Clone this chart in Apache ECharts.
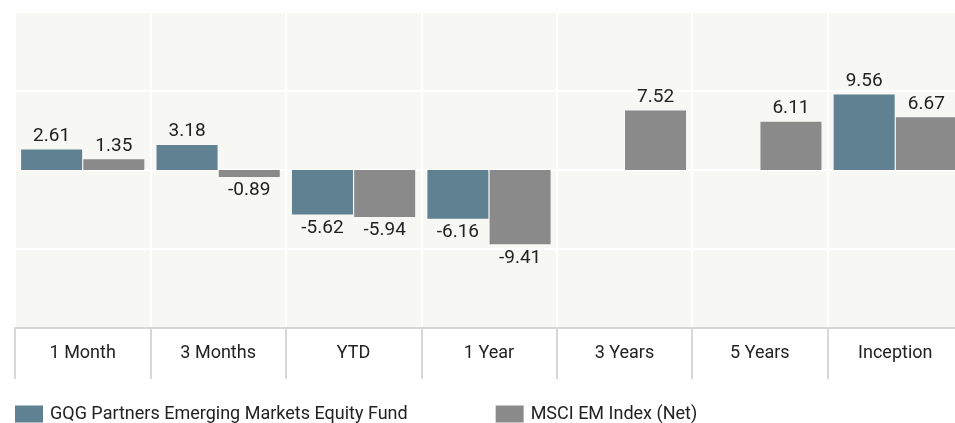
<!DOCTYPE html>
<html>
<head>
<meta charset="utf-8">
<script src="https://cdn.jsdelivr.net/npm/echarts@6/dist/echarts.min.js"></script>
<style>
  html, body { margin: 0; padding: 0; background: #fff; }
  #chart { width: 955px; height: 423px; }
</style>
</head>
<body>
<div id="chart"></div>
<script>
var categories = ['1 Month', '3 Months', 'YTD', '1 Year', '3 Years', '5 Years', 'Inception'];
var fundValues = [2.61, 3.18, -5.62, -6.16, null, null, 9.56];
var indexValues = [1.35, -0.89, -5.94, -9.41, 7.52, 6.11, 6.67];
var seriesNames = ['GQG Partners Emerging Markets Equity Fund', 'MSCI EM Index (Net)'];

var font = "Roboto, sans-serif";

// negative bars get their label underneath
function withLabels(arr) {
    return arr.map(function (v) {
        if (v === null) return '-';
        return { value: v, label: { position: v < 0 ? 'bottom' : 'top' } };
    });
}

var myChart = echarts.init(document.getElementById('chart'));

var option = {
    animation: false,
    textStyle: { fontFamily: font },
    grid: {
        left: 15,
        width: 948,
        top: 12,
        height: 316,
        outerBoundsMode: 'none',
        show: true,
        backgroundColor: '#f7f7f3',
        borderWidth: 0
    },
    legend: {
        left: 10,
        top: 400,
        itemWidth: 28,
        itemHeight: 17,
        itemGap: 88,
        icon: 'rect',
        textStyle: { fontFamily: font, fontSize: 18, color: '#222', padding: [0, 0, 0, 2] },
        data: seriesNames
    },
    xAxis: {
        type: 'category',
        data: categories,
        axisLine: { onZero: false, lineStyle: { color: '#d6d6d6', width: 2 } },
        axisTick: { show: true, length: 51, lineStyle: { color: '#d6d6d6', width: 2 } },
        axisLabel: { color: '#222', fontSize: 18, margin: 16, fontFamily: font },
        splitLine: { show: true, lineStyle: { color: '#ffffff', width: 2 } }
    },
    yAxis: {
        type: 'value',
        min: -20,
        max: 20,
        interval: 10,
        axisLabel: { show: false },
        axisLine: { show: false },
        axisTick: { show: false },
        splitLine: { lineStyle: { color: '#ffffff', width: 2 } }
    },
    series: [
        {
            name: seriesNames[0],
            type: 'bar',
            barWidth: 61,
            barGap: '2%',
            itemStyle: { color: '#5f8191' },
            label: { show: true, color: '#222', fontSize: 19, distance: 4, fontFamily: font, formatter: function (p) { return p.value.toFixed(2); } },
            data: withLabels(fundValues)
        },
        {
            name: seriesNames[1],
            type: 'bar',
            barWidth: 61,
            barGap: '2%',
            itemStyle: { color: '#8a8a8a' },
            label: { show: true, color: '#222', fontSize: 19, distance: 4, fontFamily: font, formatter: function (p) { return p.value.toFixed(2); } },
            data: withLabels(indexValues)
        }
    ]
};

myChart.setOption(option);
</script>
</body>
</html>
